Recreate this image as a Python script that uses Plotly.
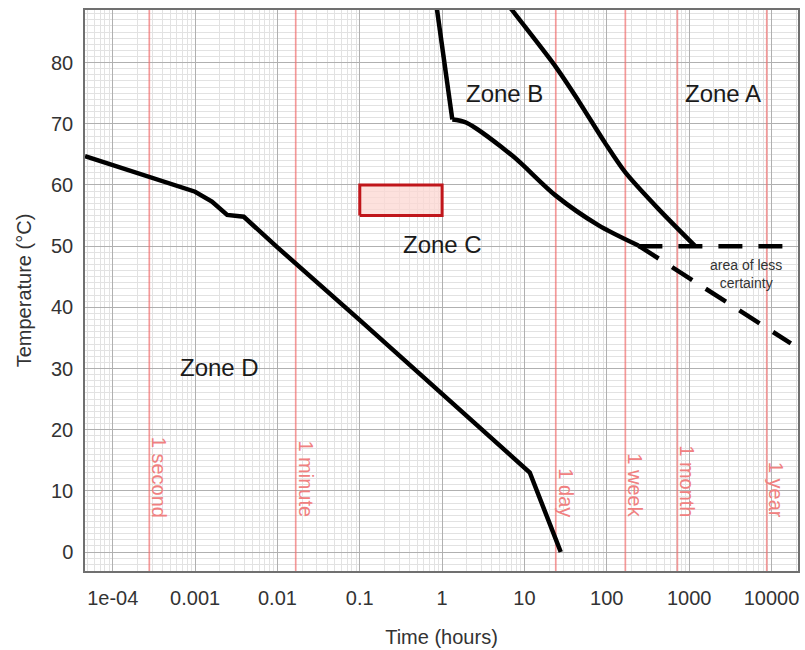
import numpy as np
import plotly.graph_objects as go

# ---- data ----
zone_d_t = [4.6e-5, 2.78e-4, 0.0006, 0.001, 0.0016, 0.00245, 0.0039, 0.01, 0.1, 1.0, 11.6, 27.6]
zone_d_T = [64.7, 61.3, 60.0, 58.9, 57.3, 55.1, 54.8, 49.8, 37.9, 25.9, 13.0, 0.0]

zone_c_steep_t = [0.82, 1.33]
zone_c_steep_T = [91.0, 70.7]
zone_c_t = [1.33, 1.95, 7.1, 23.8, 79.6, 242]
zone_c_T = [70.7, 70.2, 64.8, 58.3, 53.4, 50.1]

zone_b_t = [5.2, 7.06, 24, 45.6, 96, 167, 423, 1186]
zone_b_T = [91.0, 88.6, 79.3, 73.7, 66.8, 62.1, 56.1, 50.0]

dash_flat_t = [242, 15800]
dash_flat_T = [50.0, 50.0]
dash_slope_t = [242, 17180]
dash_slope_T = [50.1, 34.1]

rect_t = [0.1, 1.0, 1.0, 0.1, 0.1]
rect_T = [55, 55, 60, 60, 55]

ref_names = ["1 second", "1 minute", "1 day", "1 week", "1 month", "1 year"]
ref_hours = [1 / 3600, 1 / 60, 24, 168, 720, 8760]

zone_labels = ["Zone A", "Zone B", "Zone C", "Zone D"]
zone_label_t = [2570, 5.65, 1.0, 0.00197]
zone_label_T = [75, 75, 50.2, 30.1]

x_tickvals = [1e-4, 1e-3, 1e-2, 0.1, 1, 10, 100, 1000, 10000]
x_ticktext = ["1e-04", "0.001", "0.01", "0.1", "1", "10", "100", "1000", "10000"]
y_tickvals = [0, 10, 20, 30, 40, 50, 60, 70, 80]

fig = go.Figure()

# reference time lines
for h in ref_hours:
    fig.add_trace(go.Scatter(x=[h, h], y=[-10, 100], mode="lines",
                             line=dict(color="rgba(240,110,110,0.7)", width=1.7),
                             hoverinfo="skip", showlegend=False))

# rectangle
fig.add_trace(go.Scatter(x=rect_t, y=rect_T, mode="lines", fill="toself",
                         fillcolor="rgba(252,215,210,0.75)",
                         line=dict(color="#c0161b", width=3),
                         showlegend=False))

black = "#000000"
lw = 4.5
fig.add_trace(go.Scatter(x=zone_d_t, y=zone_d_T, mode="lines",
                         line=dict(color=black, width=lw), showlegend=False))
fig.add_trace(go.Scatter(x=zone_c_steep_t, y=zone_c_steep_T, mode="lines",
                         line=dict(color=black, width=lw), showlegend=False))
fig.add_trace(go.Scatter(x=zone_c_t, y=zone_c_T, mode="lines",
                         line=dict(color=black, width=lw, shape="spline", smoothing=0.8),
                         showlegend=False))
fig.add_trace(go.Scatter(x=zone_b_t, y=zone_b_T, mode="lines",
                         line=dict(color=black, width=lw, shape="spline", smoothing=0.8),
                         showlegend=False))
fig.add_trace(go.Scatter(x=dash_flat_t, y=dash_flat_T, mode="lines",
                         line=dict(color=black, width=lw, dash="24px,16px"), showlegend=False))
fig.add_trace(go.Scatter(x=dash_slope_t, y=dash_slope_T, mode="lines",
                         line=dict(color=black, width=lw, dash="24px,16px"), showlegend=False))

font_family = "Liberation Sans, Arial, sans-serif"

for name, h in zip(ref_names, ref_hours):
    fig.add_annotation(x=np.log10(h), y=5.3, text=name, showarrow=False,
                       textangle=90, xanchor="center", yanchor="bottom", xshift=10,
                       font=dict(family=font_family, size=20, color="#f08080"))

for name, t, T in zip(zone_labels, zone_label_t, zone_label_T):
    fig.add_annotation(x=np.log10(t), y=T, text=name, showarrow=False,
                       xanchor="center", yanchor="middle",
                       font=dict(family=font_family, size=24, color="#1a1a1a"))

fig.add_annotation(x=np.log10(4900), y=45.5, text="area of less<br>certainty",
                   showarrow=False, xanchor="center", yanchor="middle",
                   font=dict(family=font_family, size=14, color="#333333"))

fig.update_layout(
    width=805, height=650,
    margin=dict(l=85, r=5, t=10, b=76),
    paper_bgcolor="white", plot_bgcolor="white",
    font=dict(family=font_family, color="#333333"),
)

fig.update_xaxes(
    type="log", range=[np.log10(4.6e-5), np.log10(2.1e4)],
    tickvals=x_tickvals, ticktext=x_ticktext, tickfont=dict(size=20, color="#333333"),
    showgrid=True, gridcolor="#b0b0b0", gridwidth=1,
    minor=dict(showgrid=True, gridcolor="#e2e2e2", gridwidth=1, dtick="D1"),
    showline=True, mirror=True, linecolor="#707070", linewidth=1.5,
    zeroline=False, ticks="", ticklabelstandoff=8,
    title=dict(text="Time (hours)", font=dict(size=20, color="#333333"), standoff=22),
)
fig.update_yaxes(
    range=[-3.1, 88.6], tickvals=y_tickvals, tickfont=dict(size=20, color="#333333"),
    showgrid=True, gridcolor="#b0b0b0", gridwidth=1,
    minor=dict(showgrid=True, gridcolor="#e2e2e2", gridwidth=1, dtick=1),
    showline=True, mirror=True, linecolor="#707070", linewidth=1.5,
    zeroline=False, ticks="", ticklabelstandoff=6,
    title=dict(text="Temperature (°C)", font=dict(size=20, color="#333333"), standoff=14),
)

fig.write_html("out.html")
